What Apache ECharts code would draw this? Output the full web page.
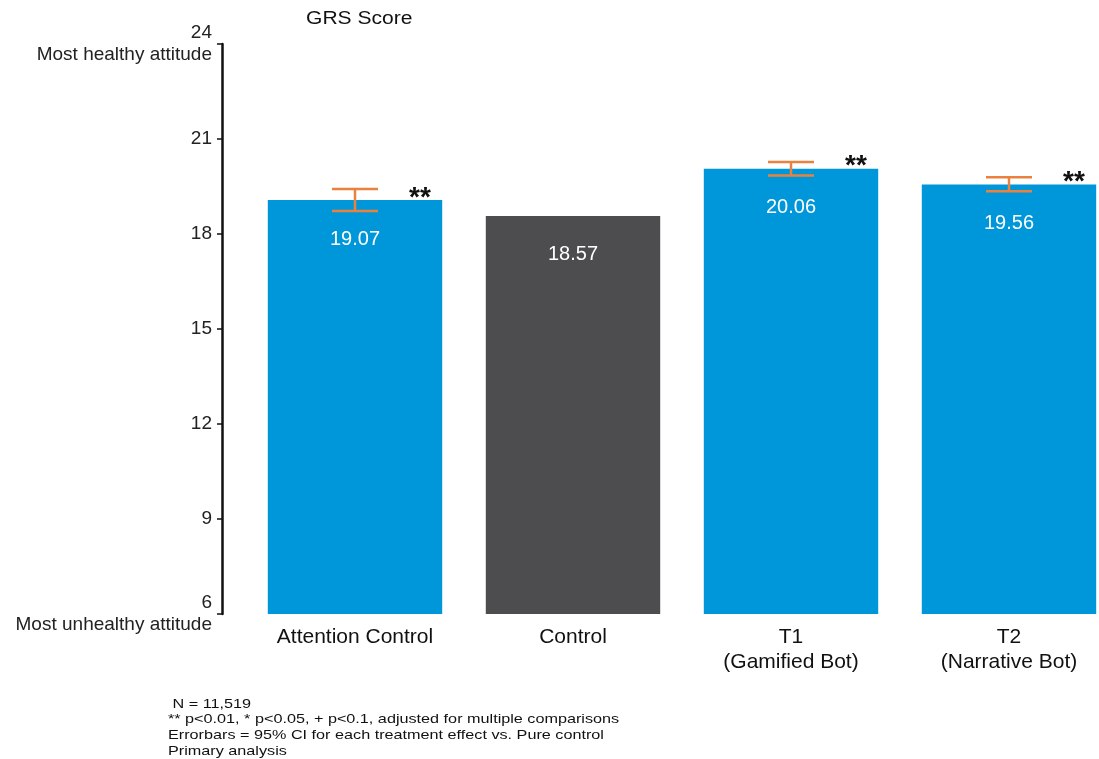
<!DOCTYPE html>
<html>
<head>
<meta charset="utf-8">
<script src="https://cdn.jsdelivr.net/npm/echarts@6/dist/echarts.min.js"></script>
<style>html,body{margin:0;padding:0;background:#fff;}#c{width:1099px;height:759px;}</style>
</head>
<body>
<div id="c"></div>
<script>
const categories = ['Attention Control', 'Control', 'T1\n(Gamified Bot)', 'T2\n(Narrative Bot)'];
const values = [19.07, 18.57, 20.06, 19.56];
const ciLow = [18.73, null, 19.85, 19.35];
const ciHigh = [19.42, null, 20.27, 19.79];
const sigMarks = ['**', '', '**', '**'];
const barColors = ['#0096DA', '#4D4D50', '#0096DA', '#0096DA'];
const yTicks = { 6: '6\nMost unhealthy attitude', 24: '24\nMost healthy attitude' };
const titleText = 'GRS Score';
const footnote = [' N = 11,519', '** p<0.01, * p<0.05, + p<0.1, adjusted for multiple comparisons', 'Errorbars = 95% CI for each treatment effect vs. Pure control', 'Primary analysis'];

const FONT = '"Liberation Sans", Arial, sans-serif';
const chart = echarts.init(document.getElementById('c'), null, { renderer: 'canvas' });

const option = {
  backgroundColor: '#fff',
  animation: false,
  textStyle: { fontFamily: FONT },
  graphic: [
    { type: 'text', x: 306, y: 10, scaleX: 1.17,
      style: { text: titleText, font: '18px ' + FONT, fill: '#111' } },
    { type: 'text', x: 168, y: 696, scaleX: 1.2,
      style: { text: footnote.join('\n'), font: '13.5px ' + FONT, fill: '#111', lineHeight: 15.8 } }
  ],
  grid: { left: 246, width: 872, top: 44, bottom: 145, containLabel: false, outerBoundsMode: 'none' },
  xAxis: {
    type: 'category',
    data: categories,
    axisLine: { show: false },
    axisTick: { show: false },
    axisLabel: { fontFamily: FONT, fontSize: 21, color: '#111', margin: 11, lineHeight: 25, interval: 0 }
  },
  yAxis: {
    type: 'value',
    min: 6, max: 24, interval: 3,
    offset: 24,
    splitLine: { show: false },
    axisLine: { show: true, lineStyle: { color: '#111', width: 2.5 } },
    axisTick: { show: true, length: 5, lineStyle: { color: '#111', width: 1.5 } },
    axisLabel: {
      fontFamily: FONT, fontSize: 19, color: '#222', margin: 10, lineHeight: 22,
      formatter: v => yTicks[v] || String(v)
    }
  },
  series: [
    {
      type: 'bar',
      data: values.map((v, i) => ({ value: v, itemStyle: { color: barColors[i] } })),
      barWidth: '80%',
      label: {
        show: true, position: 'insideTop', distance: 29,
        fontFamily: FONT, fontSize: 20, color: '#fff',
        formatter: p => p.value.toFixed(2)
      }
    },
    {
      type: 'custom',
      data: values.map((v, i) => [i, ciLow[i], ciHigh[i], v]),
      renderItem: (params, api) => {
        const i = api.value(0);
        const children = [];
        const topPt = api.coord([i, api.value(3)]);
        if (ciLow[i] != null) {
          const lo = api.coord([i, api.value(1)]);
          const hi = api.coord([i, api.value(2)]);
          const hw = 23;
          const st = { stroke: '#E8823E', lineWidth: 2.5 };
          children.push({ type: 'line', shape: { x1: lo[0], y1: lo[1], x2: hi[0], y2: hi[1] }, style: st });
          children.push({ type: 'line', shape: { x1: lo[0] - hw, y1: lo[1], x2: lo[0] + hw, y2: lo[1] }, style: st });
          children.push({ type: 'line', shape: { x1: hi[0] - hw, y1: hi[1], x2: hi[0] + hw, y2: hi[1] }, style: st });
        }
        if (sigMarks[i]) {
          children.push({
            type: 'text',
            style: {
              x: topPt[0] + 65, y: topPt[1] - 2, text: sigMarks[i],
              textAlign: 'center', textVerticalAlign: 'middle',
              font: 'bold 28px ' + FONT, fill: '#111'
            }
          });
        }
        return { type: 'group', children };
      },
      z: 5
    }
  ]
};
chart.setOption(option);
</script>
</body>
</html>
